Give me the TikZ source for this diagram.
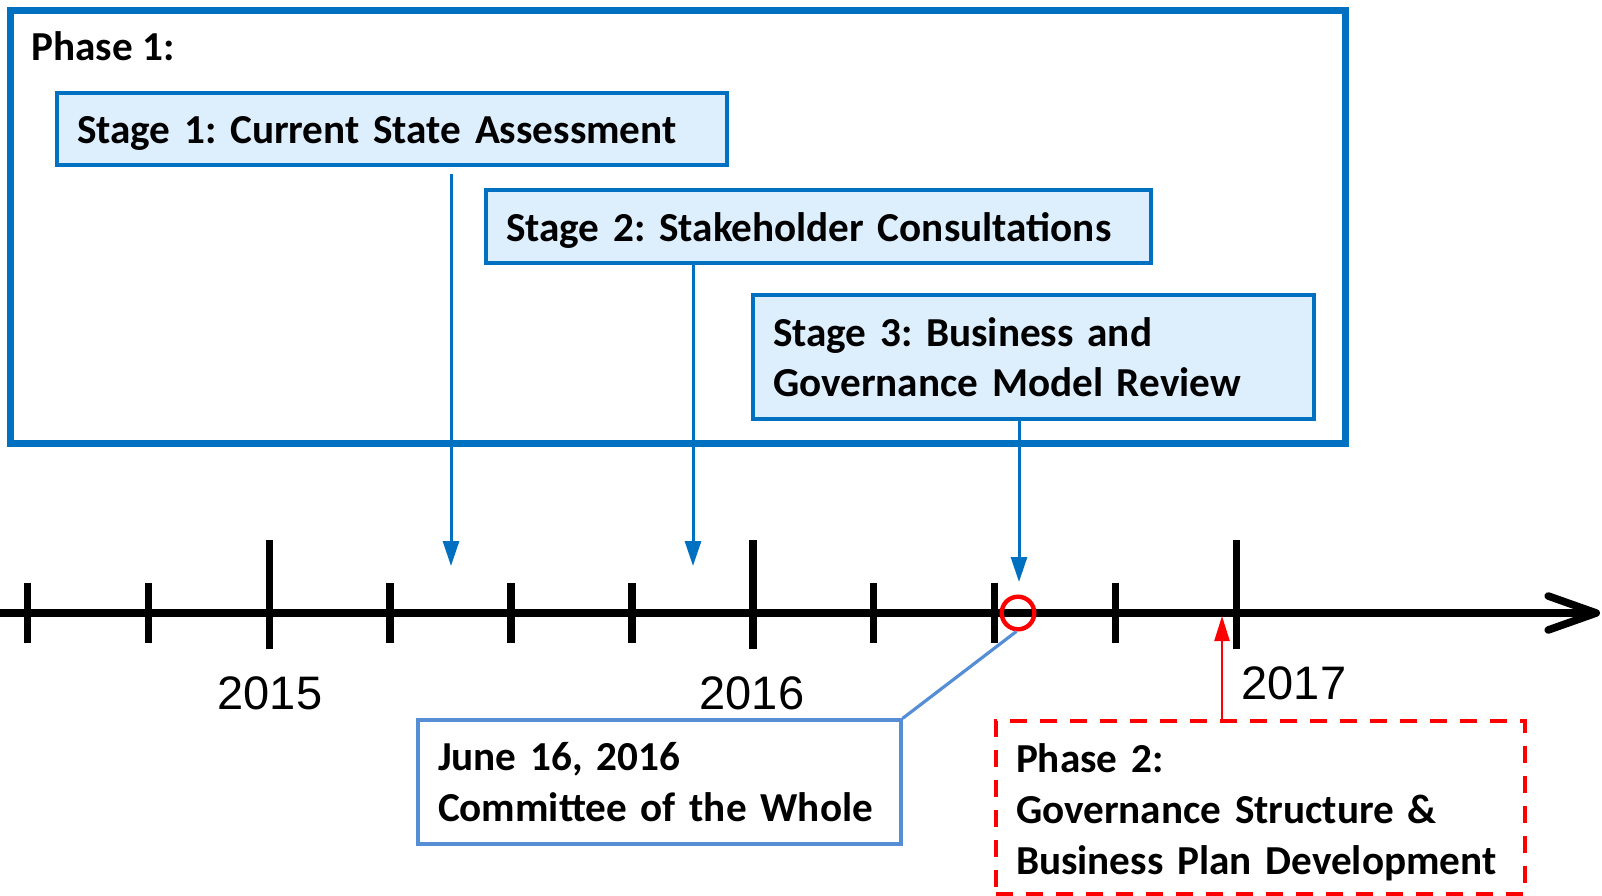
\documentclass[tikz,border=0pt]{standalone}
\usepackage{fontspec}
\setmainfont{Carlito}
\newfontfamily\yearfont{Liberation Sans}
\usetikzlibrary{arrows.meta}
\frenchspacing
\definecolor{phaseblue}{RGB}{0,112,192}
\definecolor{stagefill}{RGB}{221,238,252}
\definecolor{noteblue}{RGB}{85,142,213}
\definecolor{phasered}{RGB}{255,0,0}
\tikzset{
 boxtext/.style={font=\fontsize{20.6}{25.3}\selectfont\bfseries, align=left, inner xsep=10pt, inner ysep=0pt},
 stagebox/.style={boxtext, draw=phaseblue, fill=stagefill, line width=2pt},
 notebox/.style={boxtext, draw=noteblue, line width=1.6pt},
 phasetwo/.style={boxtext, draw=phasered, line width=2.3pt, dash pattern=on 8.5pt off 6.5pt},
 stagearrow/.style={draw=phaseblue, line width=1.5pt, -{Triangle[length=12.5pt,width=8pt]}},
 timeline/.style={line width=3.8pt, -{Straight Barb[length=24pt,width=17pt,line cap=round,round]}},
 tick/.style={line width=3.8pt},
 year/.style={font=\yearfont\fontsize{23.5}{28}\selectfont}
}
\begin{document}
\begin{tikzpicture}[x=0.5pt,y=-0.5pt]
 \useasboundingbox (0,0) rectangle (1602,895);
 \node[draw=phaseblue, line width=3.5pt, minimum width=667.5pt, minimum height=216.5pt, inner sep=0pt] (phase1) at (677.5,226.5) {};
 \node[boxtext, anchor=west, inner xsep=0pt] (phase1label) at (31,46) {Phase 1:};

 \node[stagebox, text width=315pt, minimum height=36pt] (stage1) at (392,129) {\raisebox{-2pt}[\height][\depth]{Stage 1: Current State Assessment}};
 \node[stagebox, text width=312.5pt, minimum height=36.5pt] (stage2) at (818.5,226.5) {\raisebox{-2pt}[\height][\depth]{Stage 2: Stakeholder Consultations}};
 \node[stagebox, text width=260.5pt, minimum height=62pt] (stage3) at (1033.5,357) {\mbox{Stage 3: Business and}\\\mbox{Governance Model Review}};

 \coordinate (tlstart) at (0,613);
 \coordinate (tlend) at (1600,613);
 \draw[timeline] (tlstart) -- (tlend);
 \foreach \k in {0,1,3,4,5,7,8,9}
	\draw[tick] ({27.6+120.87*\k},583) -- ({27.6+120.87*\k},643);
 \foreach \k in {2,6,10}
	\draw[tick] ({27.6+120.87*\k},540) -- ({27.6+120.87*\k},649);

 \node[year] (y2015) at (270,693) {2015};
 \node[year] (y2016) at (752,693) {2016};
 \node[year] (y2017) at (1294,683) {2017};

 \coordinate (mark1) at (451,566);
 \coordinate (mark2) at (693,566);
 \coordinate (mark3) at (1019,582);
 \draw[stagearrow] ([yshift=-3.5pt]stage1.south -| mark1) -- (mark1);
 \draw[stagearrow] (stage2.south -| mark2) -- (mark2);
 \draw[stagearrow] (stage3.south -| mark3) -- (mark3);

 \node[circle, draw=phasered, line width=2.2pt, minimum size=16.3pt, inner sep=0pt] (meeting) at (1018,613) {};
 \node[notebox, text width=221.5pt, minimum height=62pt] (note) at (659.5,782) {\mbox{June 16, 2016}\\\mbox{Committee of the Whole}};
 \draw[noteblue, line width=1.6pt] (meeting.-95) -- (note.north east);

 \node[phasetwo, text width=244.5pt, minimum height=86.5pt, font=\fontsize{20.6}{25.6}\selectfont\bfseries] (phase2) at (1260.5,807.5) {\rule{0pt}{19.5pt}\mbox{Phase 2:}\\\mbox{Governance Structure \&}\\\mbox{Business Plan Development}};
 \coordinate (start2) at (1222,616);
 \draw[phasered, line width=1.2pt, -{Triangle[length=12.5pt,width=7.5pt]}] (phase2.north -| start2) -- (start2);
\end{tikzpicture}
\end{document}
